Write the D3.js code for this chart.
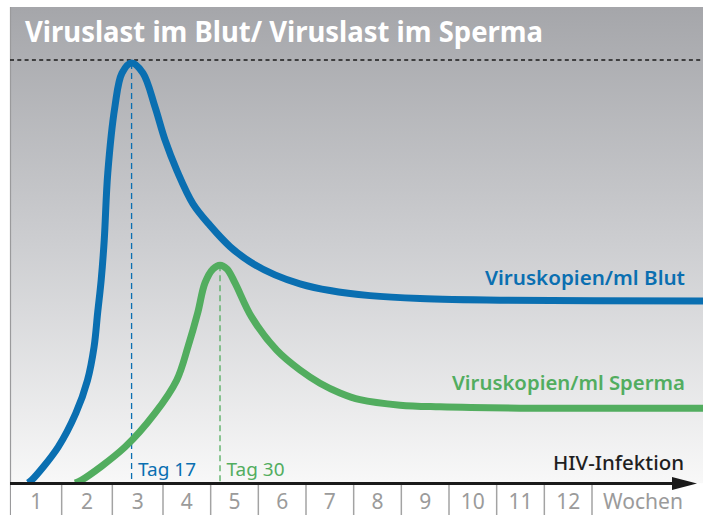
<!DOCTYPE html>
<html>
<head>
<meta charset="utf-8">
<script src="https://cdn.jsdelivr.net/npm/d3@7"></script>
<style>
  html, body { margin: 0; padding: 0; background: #fff; }
  svg { display: block; }
  text { font-family: "Noto Sans", Lato, sans-serif; }
</style>
</head>
<body>
<script>
// ---------- data ----------
const title = "Viruslast im Blut/ Viruslast im Sperma";
const weekLabels = ["1","2","3","4","5","6","7","8","9","10","11","12"];
const unitLabel = "Wochen";
const axisLabel = "HIV-Infektion";
const seriesNames = ["Viruskopien/ml Blut", "Viruskopien/ml Sperma"];
const peakLabels = ["Tag 17", "Tag 30"];

// time in weeks, relative viral load (0..100, 100 = dashed maximum line)
const bloodWeeks = [0.335, 0.41, 0.93, 1.28, 1.51, 1.64, 1.71, 1.78, 1.84, 1.91, 2.05, 2.19, 2.38, 2.605, 2.842, 3.042, 3.294, 3.629, 3.986, 4.405, 4.825, 5.349, 5.874, 6.503, 7.342, 8.391, 10.07, 14.4];
const bloodLoad  = [0, 0.7, 8.5, 16.5, 24.3, 32.2, 40.2, 48, 57.4, 73.3, 88.9, 96.9, 99.3, 96.9, 88.9, 81.1, 73.8, 66.0, 60.9, 55.9, 52.3, 49.2, 47.1, 45.5, 44.3, 43.6, 43.2, 43.0];

const spermWeeks = [1.263, 1.395, 2.25, 2.842, 3.287, 3.524, 3.728, 3.881, 4.049, 4.196, 4.343, 4.51, 4.861, 5.385, 5.874, 6.293, 6.713, 7.133, 7.972, 8.811, 10.49, 14.4];
const spermLoad  = [0, 0.7, 8.5, 16.5, 24.3, 32.2, 40.2, 47.3, 50.6, 51.5, 50.6, 47.3, 39.2, 31.4, 26.7, 23.6, 21.3, 19.7, 18.4, 18.0, 17.7, 17.7];

const maxLoad = 100;

// ---------- layout ----------
const W = 703, H = 515;
const panelTop = 7, panelLeft = 10, axisY = 483.5;
const blue = "#0a6fb1", green = "#52ad5f";

const svg = d3.select("body").append("svg").attr("width", W).attr("height", H);

const x = d3.scaleLinear().domain([0, 3, 12]).range([11, 163, 592]);
const y = d3.scaleLinear().domain([0, maxLoad]).range([483, 60]);

// background gradient
const defs = svg.append("defs");
const grad = defs.append("linearGradient").attr("id", "bg").attr("x1", 0).attr("y1", 0).attr("x2", 0).attr("y2", 1);
grad.append("stop").attr("offset", "0%").attr("stop-color", "#a5a6aa");
grad.append("stop").attr("offset", "50%").attr("stop-color", "#cdced1");
grad.append("stop").attr("offset", "100%").attr("stop-color", "#f8f8f8");

svg.append("rect").attr("x", panelLeft).attr("y", panelTop)
  .attr("width", W - panelLeft).attr("height", axisY - panelTop)
  .attr("fill", "url(#bg)");

// left border
svg.append("line").attr("x1", panelLeft + 0.5).attr("x2", panelLeft + 0.5)
  .attr("y1", panelTop).attr("y2", H).attr("stroke", "#9a9a9c").attr("stroke-width", 1.2);

// title
svg.append("text").attr("x", 25).attr("y", 42)
  .attr("fill", "#fff").attr("font-weight", 700).attr("font-size", 28)
  .attr("textLength", 518).attr("lengthAdjust", "spacingAndGlyphs")
  .text(title);

// max dashed line
svg.append("line").attr("x1", panelLeft).attr("x2", W)
  .attr("y1", y(maxLoad)).attr("y2", y(maxLoad))
  .attr("stroke", "#1a1a1a").attr("stroke-width", 1.3).attr("stroke-dasharray", "4,3.3");

// peaks
const bloodPeakIdx = d3.maxIndex(bloodLoad);
const spermPeakIdx = d3.maxIndex(spermLoad);
const peaks = [
  { w: bloodWeeks[bloodPeakIdx], v: bloodLoad[bloodPeakIdx], color: blue, label: peakLabels[0] },
  { w: spermWeeks[spermPeakIdx], v: spermLoad[spermPeakIdx], color: green, label: peakLabels[1] }
];
peaks.forEach(p => {
  svg.append("line").attr("x1", x(p.w)).attr("x2", x(p.w))
    .attr("y1", y(p.v)).attr("y2", axisY)
    .attr("stroke", p.color).attr("stroke-width", 1.3).attr("stroke-dasharray", "6,4");
  svg.append("text").attr("x", x(p.w) + 6.5).attr("y", 476)
    .attr("fill", p.color).attr("font-size", 18.5)
    .attr("textLength", 58).attr("lengthAdjust", "spacingAndGlyphs")
    .text(p.label);
});

// curves
const line = d3.line().x(d => x(d[0])).y(d => y(d[1])).curve(d3.curveCatmullRom.alpha(0.5));
svg.append("path").datum(spermWeeks.map((w, i) => [w, spermLoad[i]]))
  .attr("d", line).attr("fill", "none").attr("stroke", green).attr("stroke-width", 7);
svg.append("path").datum(bloodWeeks.map((w, i) => [w, bloodLoad[i]]))
  .attr("d", line).attr("fill", "none").attr("stroke", blue).attr("stroke-width", 7);

// series labels
svg.append("text").attr("x", 685).attr("y", 285).attr("text-anchor", "end")
  .attr("fill", blue).attr("font-weight", 600).attr("font-size", 20)
  .attr("textLength", 200).attr("lengthAdjust", "spacingAndGlyphs")
  .text(seriesNames[0]);
svg.append("text").attr("x", 685).attr("y", 390).attr("text-anchor", "end")
  .attr("fill", green).attr("font-weight", 600).attr("font-size", 20)
  .attr("textLength", 233).attr("lengthAdjust", "spacingAndGlyphs")
  .text(seriesNames[1]);

// axis label
svg.append("text").attr("x", 684).attr("y", 470).attr("text-anchor", "end")
  .attr("fill", "#1f1f1f").attr("font-weight", 500).attr("font-size", 20)
  .attr("textLength", 131).attr("lengthAdjust", "spacingAndGlyphs")
  .text(axisLabel);

// bottom strip
svg.append("rect").attr("x", panelLeft + 1).attr("y", axisY).attr("width", W - panelLeft).attr("height", H - axisY).attr("fill", "#fff");

// separators
const bounds = d3.range(1, 13);
svg.selectAll("line.sep").data(bounds).enter().append("line").attr("class", "sep")
  .attr("x1", d => x(d)).attr("x2", d => x(d))
  .attr("y1", axisY).attr("y2", H)
  .attr("stroke", "#a3a3a3").attr("stroke-width", 1.5);

// week labels
svg.selectAll("text.wk").data(weekLabels).enter().append("text").attr("class", "wk")
  .attr("x", (d, i) => (x(i) + x(i + 1)) / 2)
  .attr("y", 508.5).attr("text-anchor", "middle")
  .attr("fill", "#9b9b9b").attr("font-size", 21)
  .text(d => d);
svg.append("text").attr("x", 643).attr("y", 508.5).attr("text-anchor", "middle")
  .attr("fill", "#9b9b9b").attr("font-size", 21)
  .attr("textLength", 80).attr("lengthAdjust", "spacingAndGlyphs")
  .text(unitLabel);

// axis line with arrow
svg.append("line").attr("x1", panelLeft).attr("x2", 674)
  .attr("y1", axisY).attr("y2", axisY)
  .attr("stroke", "#1a1a1a").attr("stroke-width", 3);
svg.append("path").attr("d", `M672,477 L697,${axisY} L672,490 Z`).attr("fill", "#1a1a1a");
</script>
</body>
</html>
